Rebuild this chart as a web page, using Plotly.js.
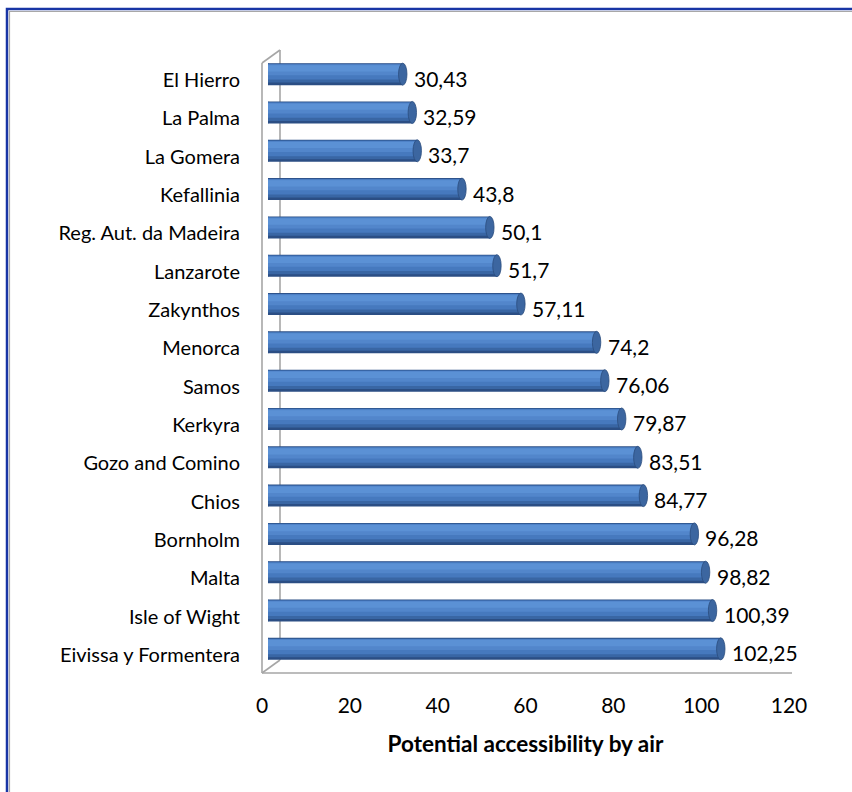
<!DOCTYPE html>
<html>
<head>
<meta charset="utf-8">
<script src="https://cdn.plot.ly/plotly-3.0.1.min.js"></script>
<style>html,body{margin:0;padding:0;background:#fff;}#chart{width:852px;height:792px;}</style>
</head>
<body>
<div id="chart"></div>
<script>
// ---- data ----
const categories = ['El Hierro', 'La Palma', 'La Gomera', 'Kefallinia', 'Reg. Aut. da Madeira', 'Lanzarote', 'Zakynthos', 'Menorca', 'Samos', 'Kerkyra', 'Gozo and Comino', 'Chios', 'Bornholm', 'Malta', 'Isle of Wight', 'Eivissa y Formentera'];
const values = [30.43, 32.59, 33.7, 43.8, 50.1, 51.7, 57.11, 74.2, 76.06, 79.87, 83.51, 84.77, 96.28, 98.82, 100.39, 102.25];
const tickValues = [0, 20, 40, 60, 80, 100, 120];
const axisTitle = 'Potential accessibility by air';

// ---- geometry helpers ----
const W = 852, H = 792;
const M = {l: 262, r: 48, t: 55, b: 124};
const PW = W - M.l - M.r, PH = H - M.t - M.b;
const px = x => (x - M.l) / PW;
const py = y => 1 - (y - M.t) / PH;

const FONT = 'Lato, Carlito, Calibri, sans-serif';
const order = categories.slice().reverse(); // first category at top
const idx = c => order.indexOf(c);
const labelText = values.map(v => String(v).replace('.', ','));

const HALF = 0.2875;
// cylinder shading layers: [offset, width, colour]
const bands = [
  [-HALF, 2 * HALF, '#2B4E84'],
  [-0.22, 0.49, '#3966A4'],
  [-0.14, 0.40, '#4679BE'],
  [-0.03, 0.28, '#5286CB'],
  [0.07, 0.16, '#5B91D5']
];
const traces = bands.map(b => ({
  type: 'bar', orientation: 'h', x: values, y: categories, offset: b[0], width: b[1],
  marker: {color: b[2], line: {width: 0}}, hoverinfo: 'skip'
}));
traces.push({type: 'scatter', mode: 'markers', x: [tickValues[0]], y: [categories[0]], xaxis: 'x2', yaxis: 'y',
  marker: {opacity: 0}, hoverinfo: 'skip', showlegend: false});

const shapes = [];
// chart border (blue with grey inner line)
shapes.push({type: 'rect', xref: 'paper', yref: 'paper', x0: px(7), x1: px(1000), y0: py(9), y1: py(1000),
  line: {color: '#1835A5', width: 2.5}, layer: 'below'});
shapes.push({type: 'rect', xref: 'paper', yref: 'paper', x0: px(9.5), x1: px(1000), y0: py(11.5), y1: py(1000),
  line: {color: '#A8A8A8', width: 1.2}, layer: 'below'});
// 3-D wall and floor lines
const g = {color: '#A6A6A6', width: 1.6};
[[262, 63, 262, 673], [280, 50, 280, 660], [262, 63, 280, 50], [262, 673, 280, 660], [262, 673, 792, 673]].forEach(s => {
  shapes.push({type: 'line', xref: 'paper', yref: 'paper', x0: px(s[0]), y0: py(s[1]), x1: px(s[2]), y1: py(s[3]), line: g, layer: 'below'});
});
// cylinder end caps
values.forEach((v, i) => {
  const k = idx(categories[i]);
  shapes.push({type: 'circle', xref: 'x', yref: 'y', x0: v - 0.95, x1: v + 0.95, y0: k - HALF, y1: k + HALF,
    fillcolor: '#3C66A0', line: {color: '#2B4C7E', width: 0.8}, layer: 'above'});
  shapes.push({type: 'circle', xref: 'x', yref: 'y', x0: -0.7, x1: 0.7, y0: k - HALF, y1: k + HALF,
    fillcolor: '#4577B9', line: {width: 0}, layer: 'below'});
});

const annotations = values.map((v, i) => ({
  xref: 'x', yref: 'y', x: v, y: categories[i], text: labelText[i], showarrow: false,
  xanchor: 'left', yanchor: 'middle', xshift: 9, yshift: -4,
  font: {family: FONT, size: 21, color: '#000'}
}));

const layout = {
  width: W, height: H,
  margin: M,
  paper_bgcolor: '#fff', plot_bgcolor: 'rgba(0,0,0,0)',
  showlegend: false,
  barmode: 'overlay',
  xaxis: {domain: [px(268), px(799.4)], anchor: 'y', range: [0, 120], visible: false, fixedrange: true},
  xaxis2: {anchor: 'y', side: 'bottom', domain: [0, px(789)], range: [0, 120],
    tickvals: tickValues, ticktext: tickValues.map(String), showgrid: false, zeroline: false, showline: false,
    ticks: '', ticklabelstandoff: 23, tickfont: {family: FONT, size: 21, color: '#000'},
    title: {text: '<b>' + axisTitle + '</b>', font: {family: FONT, size: 22.5, color: '#000'}, standoff: 20}},
  yaxis: {type: 'category', anchor: 'x', categoryorder: 'array', categoryarray: order, range: [-0.5, 15.5],
    showgrid: false, zeroline: false, showline: false, ticks: '',
    ticklabelstandoff: 27, ticklabelshift: 6,
    tickfont: {family: FONT, size: 20, color: '#000'}},
  shapes: shapes,
  annotations: annotations
};

Plotly.newPlot('chart', traces, layout, {displayModeBar: false, staticPlot: true});
</script>
</body>
</html>
